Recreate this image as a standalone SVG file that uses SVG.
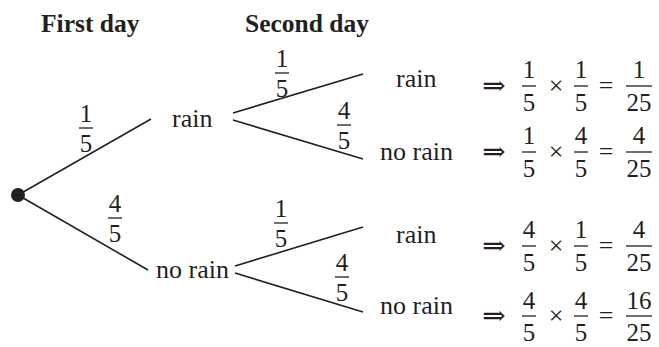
<svg xmlns="http://www.w3.org/2000/svg" width="659" height="347" viewBox="0 0 659 347">
<style>
text{font-family:"Liberation Serif","Times New Roman",serif;fill:#231f20}
.h{font-weight:bold;font-size:25.5px}
.t{font-size:26px}
.d{font-size:25px;text-anchor:middle}
.op{font-size:26px;text-anchor:middle}
.ar{font-family:"DejaVu Serif",serif;font-size:28px;text-anchor:middle}
.br{stroke:#231f20;stroke-width:1.6;fill:none}
.fb{stroke:#231f20;stroke-width:1.3}
</style>
<rect width="659" height="347" fill="#ffffff"/>
<g id="headers">
<text class="h" x="41" y="32">First day</text>
<text class="h" x="245" y="32">Second day</text>
</g>
<g id="connectors">
<line class="br" x1="18" y1="195" x2="151" y2="119"/>
<line class="br" x1="18" y1="195" x2="148" y2="270"/>
<line class="br" x1="233" y1="113" x2="363" y2="74"/>
<line class="br" x1="233" y1="120" x2="363" y2="159"/>
<line class="br" x1="235" y1="266" x2="363" y2="227"/>
<line class="br" x1="235" y1="273" x2="363" y2="312"/>
</g>
<g id="edge-labels">
<g id="p-rain1"><text class="d" x="86" y="122">1</text><line class="fb" x1="79" y1="128" x2="93" y2="128"/><text class="d" x="86" y="152">5</text></g>
<g id="p-norain1"><text class="d" x="115" y="212">4</text><line class="fb" x1="108" y1="218" x2="122" y2="218"/><text class="d" x="115" y="242">5</text></g>
<g id="p-rr"><text class="d" x="282" y="67">1</text><line class="fb" x1="275" y1="73" x2="289" y2="73"/><text class="d" x="282" y="97">5</text></g>
<g id="p-rn"><text class="d" x="344" y="119">4</text><line class="fb" x1="337" y1="125" x2="351" y2="125"/><text class="d" x="344" y="149">5</text></g>
<g id="p-nr"><text class="d" x="281" y="217">1</text><line class="fb" x1="274" y1="223" x2="288" y2="223"/><text class="d" x="281" y="247">5</text></g>
<g id="p-nn"><text class="d" x="342" y="271">4</text><line class="fb" x1="335" y1="277" x2="349" y2="277"/><text class="d" x="342" y="301">5</text></g>
</g>
<g id="node-start"><circle cx="18" cy="195" r="7" fill="#231f20"/></g>
<g id="node-rain1"><text class="t" x="172" y="127">rain</text></g>
<g id="node-norain1"><text class="t" x="156" y="278">no rain</text></g>
<g id="node-rr">
<text class="t" x="396" y="87">rain</text>
<text class="ar" x="494" y="95">⇒</text>
<text class="d" x="529" y="78">1</text><line class="fb" x1="522" y1="86" x2="536" y2="86"/><text class="d" x="529" y="111">5</text>
<text class="op" x="556" y="94">×</text>
<text class="d" x="581" y="78">1</text><line class="fb" x1="574" y1="86" x2="588" y2="86"/><text class="d" x="581" y="111">5</text>
<text class="op" x="606" y="94">=</text>
<text class="d" x="639" y="78">1</text><line class="fb" x1="626" y1="86" x2="652" y2="86"/><text class="d" x="639" y="111">25</text>
</g>
<g id="node-rn">
<text class="t" x="380" y="160">no rain</text>
<text class="ar" x="494" y="161">⇒</text>
<text class="d" x="529" y="144">1</text><line class="fb" x1="522" y1="152" x2="536" y2="152"/><text class="d" x="529" y="177">5</text>
<text class="op" x="556" y="160">×</text>
<text class="d" x="581" y="144">4</text><line class="fb" x1="574" y1="152" x2="588" y2="152"/><text class="d" x="581" y="177">5</text>
<text class="op" x="606" y="160">=</text>
<text class="d" x="639" y="144">4</text><line class="fb" x1="626" y1="152" x2="652" y2="152"/><text class="d" x="639" y="177">25</text>
</g>
<g id="node-nr">
<text class="t" x="396" y="243">rain</text>
<text class="ar" x="494" y="255">⇒</text>
<text class="d" x="529" y="238">4</text><line class="fb" x1="522" y1="246" x2="536" y2="246"/><text class="d" x="529" y="271">5</text>
<text class="op" x="556" y="254">×</text>
<text class="d" x="581" y="238">1</text><line class="fb" x1="574" y1="246" x2="588" y2="246"/><text class="d" x="581" y="271">5</text>
<text class="op" x="606" y="254">=</text>
<text class="d" x="639" y="238">4</text><line class="fb" x1="626" y1="246" x2="652" y2="246"/><text class="d" x="639" y="271">25</text>
</g>
<g id="node-nn">
<text class="t" x="380" y="314">no rain</text>
<text class="ar" x="494" y="325">⇒</text>
<text class="d" x="529" y="309">4</text><line class="fb" x1="522" y1="316" x2="536" y2="316"/><text class="d" x="529" y="341">5</text>
<text class="op" x="556" y="324">×</text>
<text class="d" x="581" y="309">4</text><line class="fb" x1="574" y1="316" x2="588" y2="316"/><text class="d" x="581" y="341">5</text>
<text class="op" x="606" y="324">=</text>
<text class="d" x="639" y="309">16</text><line class="fb" x1="626" y1="316" x2="652" y2="316"/><text class="d" x="639" y="341">25</text>
</g>
</svg>
